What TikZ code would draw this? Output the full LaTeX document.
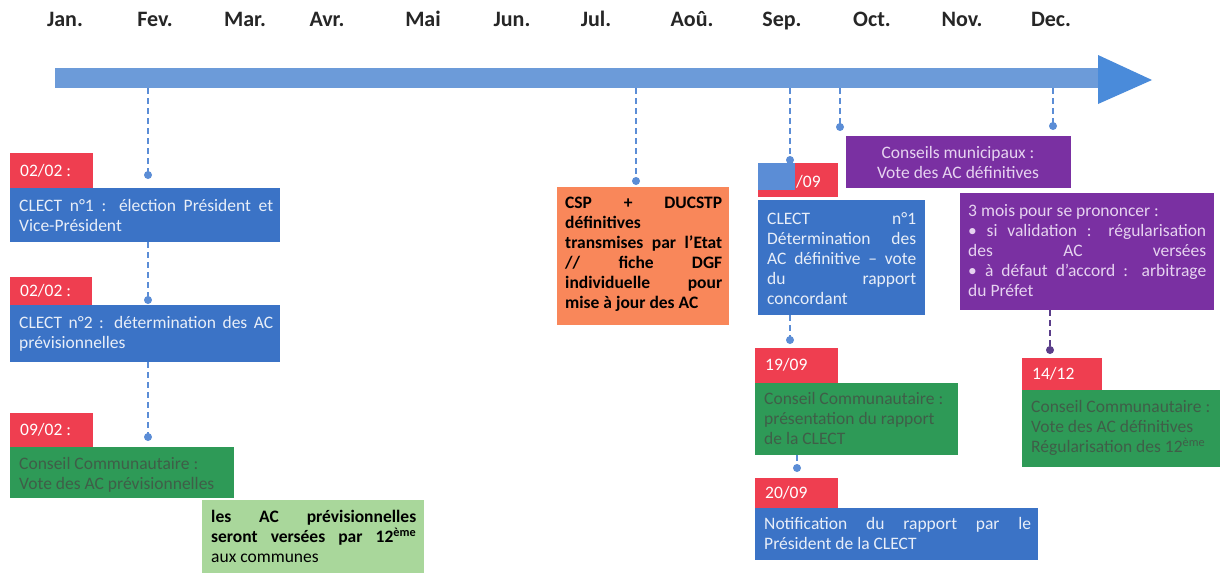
\documentclass[tikz,border=0pt]{standalone}
\usepackage{fontspec}
\setmainfont{Carlito}
\definecolor{barc}{HTML}{6C9BD9}
\definecolor{headc}{HTML}{4A8BDA}
\definecolor{connc}{HTML}{5B8DD6}
\definecolor{darkconn}{HTML}{5A3D8A}
\definecolor{red1}{HTML}{EF3E50}
\definecolor{blue1}{HTML}{3B73C6}
\definecolor{green1}{HTML}{2E9A57}
\definecolor{lgreen}{HTML}{A9D79B}
\definecolor{orange1}{HTML}{F9875A}
\definecolor{purple1}{HTML}{7A30A2}
\definecolor{lav}{HTML}{E6D3F0}
\definecolor{gtext}{HTML}{3F5E48}
\definecolor{btext}{HTML}{E8EEF8}
\begin{document}
\begin{tikzpicture}[x=1pt,y=-1pt,
  boxnode/.style={anchor=north west, inner sep=0pt, outer sep=0pt},
  txt/.style={anchor=north west, inner sep=0pt, align=justify, font=\fontsize{17.5}{20}\selectfont},
  lbl/.style={anchor=north west, inner sep=0pt, text=white, font=\fontsize{17.5}{20}\selectfont},
  month/.style={anchor=base, inner sep=0pt, font=\fontsize{22}{24}\selectfont\bfseries, text=black!85},
  conn/.style={draw=connc, line width=2.5pt, dash pattern=on 6pt off 4pt},
  dotc/.style={fill=connc}]
\useasboundingbox (0,0) rectangle (1220,573);
\fill[white] (0,0) rectangle (1220,573);
% months
\foreach \m/\x in {Jan./65,Fev./155,Mar./245,Avr./327,Mai/423,Jun./512,Jul./596,Aoû./692,Sep./782,Oct./872,Nov./962,Dec./1051}
  \node[month] (m\x) at (\x,26) {\m};
% timeline arrow
\node[boxnode, fill=barc, minimum width=1043pt, minimum height=20pt] (bar) at (55,68) {};
\fill[headc] (1098,55) -- (1152,80) -- (1098,104) -- cycle;

% left column
\node[boxnode, fill=red1, minimum width=83pt, minimum height=35pt] (l1) at (10,153) {};
\node[lbl] at (20,164) {02/02 :};
\node[boxnode, fill=blue1, minimum width=270pt, minimum height=54pt] (b1) at (10,188) {};
\node[txt, text=btext, text width=254pt] at (19,199) {CLECT n°1 : élection Président et\linebreak Vice-Président};

\node[boxnode, fill=red1, minimum width=82pt, minimum height=28pt] (l2) at (10,277) {};
\node[lbl] at (20,284) {02/02 :};
\node[boxnode, fill=blue1, minimum width=270pt, minimum height=57pt] (b2) at (10,305) {};
\node[txt, text=btext, text width=254pt] at (19,316) {CLECT n°2 : détermination des AC\linebreak prévisionnelles};

\node[boxnode, fill=red1, minimum width=83pt, minimum height=34pt] (l3) at (10,413) {};
\node[lbl] at (20,423) {09/02 :};
\node[boxnode, fill=green1, minimum width=224pt, minimum height=51pt] (g3) at (10,447) {};
\node[txt, text=gtext, align=left] at (19,457) {Conseil Communautaire :\\Vote des AC prévisionnelles};

\node[boxnode, fill=lgreen, minimum width=222pt, minimum height=73pt] (lg) at (202,500) {};
\node[txt, text=black, text width=205pt] at (211,510) {\textbf{les AC prévisionnelles}\linebreak \textbf{seront versées par 12\textsuperscript{ème}}\linebreak aux communes};

% orange
\node[boxnode, fill=orange1, minimum width=172pt, minimum height=138pt] (or) at (557,187) {};
\node[txt, text=black, text width=157pt, font=\fontsize{17.5}{20}\selectfont\bfseries] at (565,197) {CSP + DUCSTP\linebreak définitives\\transmises par l'Etat\linebreak // fiche DGF\linebreak individuelle pour\linebreak mise à jour des AC};

% september column
\node[boxnode, fill=red1, minimum width=80pt, minimum height=34pt] (l4) at (758,163) {};
\fill[connc] (758,163) rectangle (795,190);
\node[lbl] at (796,175) {/09};
\node[boxnode, fill=blue1, minimum width=167pt, minimum height=115pt] (b4) at (758,200) {};
\node[txt, text=btext, text width=149pt] at (767,212) {CLECT n°1\linebreak Détermination des\linebreak AC définitive – vote\linebreak du rapport\linebreak concordant};

\node[boxnode, fill=red1, minimum width=83pt, minimum height=35pt] (l5) at (755,348) {};
\node[lbl] at (765,358) {19/09};
\node[boxnode, fill=green1, minimum width=203pt, minimum height=72pt] (g5) at (755,383) {};
\node[txt, text=gtext, text width=187pt] at (764,392) {Conseil Communautaire :\\présentation du rapport\\de la CLECT};

\node[boxnode, fill=red1, minimum width=83pt, minimum height=30pt] (l6) at (755,478) {};
\node[lbl] at (765,486) {20/09};
\node[boxnode, fill=blue1, minimum width=283pt, minimum height=52pt] (b6) at (755,508) {};
\node[txt, text=btext, text width=267pt] at (764,517) {Notification du rapport par le\linebreak Président de la CLECT};

% purple
\node[boxnode, fill=purple1, minimum width=225pt, minimum height=52pt] (p1) at (846,136) {};
\node[txt, text=lav, align=center, anchor=center] at (958,162) {Conseils municipaux :\\Vote des AC définitives};
\node[boxnode, fill=purple1, minimum width=254pt, minimum height=117pt] (p2) at (960,193) {};
\node[txt, text=lav, text width=238pt] at (968,204) {3 mois pour se prononcer :\\• si validation : régularisation\linebreak des AC versées\linebreak • à défaut d'accord : arbitrage\linebreak du Préfet};

\node[boxnode, fill=red1, minimum width=80pt, minimum height=32pt] (l7) at (1022,358) {};
\node[lbl] at (1032,367) {14/12};
\node[boxnode, fill=green1, minimum width=198pt, minimum height=77pt] (g7) at (1022,390) {};
\node[txt, text=gtext, align=left] at (1031,400) {Conseil Communautaire :\\Vote des AC définitives\\Régularisation des 12\textsuperscript{ème}};

% connectors
\coordinate (d1) at (148,175);
\coordinate (d2) at (148,300);
\coordinate (d3) at (148,437);
\coordinate (d4) at (636,181);
\coordinate (d5) at (790,160);
\coordinate (d6) at (840,127);
\coordinate (d7) at (1053,126);
\coordinate (d8) at (790,340);
\coordinate (d9) at (797,468);
\coordinate (d10) at (1050,350);
\draw[conn] (d1 |- bar.south) -- (d1);
\draw[conn] (d2 |- b1.south) -- (d2);
\draw[conn] (d3 |- b2.south) -- (d3);
\draw[conn] (d4 |- bar.south) -- (d4);
\draw[conn] (d5 |- bar.south) -- (d5);
\draw[conn] (d6 |- bar.south) -- (d6);
\draw[conn] (d7 |- bar.south) -- (d7);
\draw[conn] (d8 |- b4.south) -- (d8);
\draw[conn] (d9 |- g5.south) -- (d9);
\draw[conn, draw=darkconn] (d10 |- p2.south) -- (d10);
\foreach \d in {d1,d2,d3,d4,d5,d6,d7,d8,d9} \fill[connc] (\d) circle[radius=4pt];
\fill[darkconn] (d10) circle[radius=4pt];
\end{tikzpicture}
\end{document}
